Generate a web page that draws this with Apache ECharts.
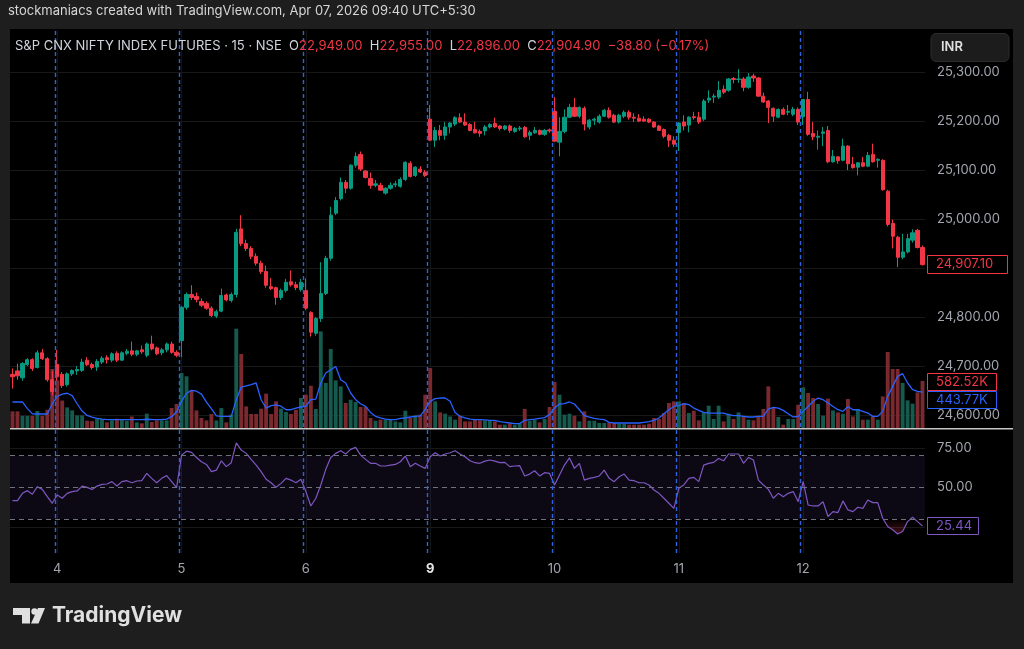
<!DOCTYPE html>
<html lang="en">
<head>
<meta charset="UTF-8">
<title>NIFTY futures 15m</title>
<script src="https://cdn.jsdelivr.net/npm/echarts@6/dist/echarts.min.js"></script>
<style>
  html, body { margin: 0; padding: 0; background: #1e1e1e; }
  #wrap { position: relative; width: 1024px; height: 649px; }
  #pane { position: absolute; left: 10px; top: 29px; width: 1003px; height: 554px; background: #000; }
  #main { position: absolute; left: 0; top: 0; width: 1024px; height: 649px; }
</style>
</head>
<body>
<div id="wrap"><div id="pane"></div><div id="main"></div></div>
<script>
// session layout
var sessionTimes = ['09:15','09:30','09:45','10:00','10:15','10:30','10:45','11:00','11:15','11:30','11:45','12:00','12:15',
    '12:30','12:45','13:00','13:15','13:30','13:45','14:00','14:15','14:30','14:45','15:00','15:15'];
var tradingDays = ['3','4','5','6','9','10','11','12'];
var firstDayFrom = '13:15';      // first day is only partly visible
var weekStartDay = '9';

// candles [open, high, low, close]
var candles = [
    // 3
    [24683,24695,24654,24678],[24690,24705,24672,24680],[24676,24708,24670,24705],[24703,24716,24700,24713],[24713,24716,24690,24695],
    [24697,24732,24695,24727],[24727,24735,24712,24715],[24715,24718,24668,24672],[24672,24690,24640,24648],
    // 4
    [24703,24733,24670,24678],[24683,24688,24655,24660],[24662,24687,24658,24684],[24684,24693,24680,24691],[24690,24700,24682,24693],
    [24691,24715,24688,24708],[24712,24718,24700,24703],[24703,24707,24693,24697],[24698,24714,24690,24709],[24708,24720,24704,24716],
    [24717,24722,24705,24713],[24712,24728,24708,24725],[24726,24730,24708,24712],[24712,24730,24710,24727],[24726,24735,24722,24730],
    [24731,24750,24720,24724],[24724,24733,24720,24731],[24733,24742,24725,24729],[24722,24748,24718,24745],[24745,24762,24732,24735],
    [24737,24740,24722,24725],[24727,24737,24722,24733],[24733,24748,24728,24745],[24745,24750,24725,24728],[24728,24732,24718,24722],
    // 5
    [24752,24822,24718,24820],[24820,24850,24815,24846],[24846,24865,24835,24840],[24842,24850,24830,24836],[24832,24838,24820,24824],
    [24828,24832,24815,24818],[24818,24822,24800,24803],[24802,24815,24798,24811],[24812,24858,24810,24844],[24845,24848,24832,24835],
    [24834,24850,24830,24846],[24846,24980,24840,24973],[24980,25008,24945,24950],[24950,24958,24935,24940],[24940,24945,24918,24924],
    [24924,24930,24905,24910],[24910,24915,24888,24893],[24893,24905,24860,24865],[24862,24880,24855,24858],[24860,24862,24825,24840],
    [24840,24858,24835,24854],[24854,24878,24850,24871],[24872,24895,24862,24866],[24866,24872,24855,24860],[24856,24878,24852,24871],
    // 6
    [24854,24879,24814,24818],[24809,24812,24760,24769],[24767,24800,24762,24797],[24797,24912,24790,24848],[24848,24925,24845,24920],
    [24920,25025,24915,25008],[25012,25045,25008,25038],[25042,25085,25038,25075],[25075,25080,25053,25063],[25063,25112,25060,25110],
    [25110,25136,25105,25128],[25132,25138,25098,25102],[25098,25100,25083,25085],[25083,25095,25062,25069],[25069,25080,25065,25072],
    [25069,25074,25058,25059],[25053,25065,25050,25063],[25063,25075,25060,25069],[25070,25078,25065,25072],[25067,25085,25064,25081],
    [25081,25118,25078,25116],[25114,25118,25085,25087],[25089,25108,25086,25106],[25102,25108,25094,25096],[25096,25100,25086,25089],
    // 9
    [25204,25233,25159,25161],[25161,25188,25147,25181],[25181,25192,25161,25171],[25171,25198,25162,25188],[25188,25198,25175,25196],
    [25194,25210,25190,25207],[25207,25216,25196,25198],[25198,25216,25190,25192],[25193,25196,25179,25181],[25183,25198,25175,25176],
    [25179,25183,25168,25175],[25180,25192,25171,25188],[25188,25196,25185,25193],[25195,25207,25186,25188],[25190,25192,25181,25185],
    [25184,25192,25181,25190],[25190,25193,25176,25181],[25179,25188,25176,25185],[25184,25190,25180,25186],[25187,25190,25166,25168],
    [25171,25181,25161,25177],[25176,25188,25174,25181],[25181,25183,25171,25173],[25173,25184,25170,25181],[25182,25185,25176,25180],
    // 10
    [25220,25249,25159,25159],[25157,25208,25128,25179],[25179,25224,25175,25208],[25208,25235,25206,25228],[25228,25247,25208,25210],
    [25210,25230,25206,25228],[25226,25230,25181,25194],[25188,25204,25183,25202],[25202,25207,25192,25204],[25198,25214,25195,25210],
    [25210,25225,25208,25222],[25222,25228,25205,25208],[25212,25215,25196,25198],[25198,25215,25195,25212],[25210,25222,25206,25218],
    [25218,25222,25203,25208],[25208,25216,25198,25206],[25206,25214,25198,25200],[25204,25210,25198,25200],[25204,25206,25196,25198],
    [25198,25200,25186,25188],[25190,25192,25181,25181],[25183,25185,25165,25169],[25171,25174,25147,25161],[25161,25169,25147,25153],
    // 11
    [25177,25198,25139,25196],[25198,25212,25181,25190],[25192,25210,25177,25208],[25209,25219,25203,25207],[25208,25219,25194,25198],
    [25204,25245,25200,25241],[25243,25263,25237,25247],[25249,25256,25237,25251],[25249,25282,25245,25263],[25265,25273,25255,25259],
    [25263,25288,25260,25286],[25287,25290,25277,25285],[25285,25306,25278,25286],[25286,25290,25261,25269],[25269,25298,25266,25290],
    [25292,25297,25280,25288],[25288,25290,25250,25251],[25251,25258,25237,25239],[25241,25243,25196,25228],[25226,25228,25198,25210],
    [25208,25226,25206,25224],[25224,25228,25212,25214],[25218,25233,25212,25220],[25214,25229,25210,25224],[25224,25228,25192,25198],
    // 12
    [25209,25244,25192,25244],[25244,25260,25170,25173],[25175,25198,25161,25168],[25167,25181,25142,25169],[25175,25188,25149,25178],
    [25181,25190,25114,25117],[25117,25141,25115,25128],[25127,25128,25113,25119],[25120,25164,25118,25149],[25149,25151,25100,25113],
    [25112,25127,25103,25105],[25106,25115,25089,25115],[25115,25127,25106,25108],[25108,25137,25106,25130],[25132,25154,25115,25117],
    [25120,25124,25105,25122],[25120,25122,25058,25060],[25057,25060,24985,24989],[24991,24999,24940,24965],[24963,24966,24902,24922],
    [24922,24970,24918,24933],[24933,24970,24930,24960],[24957,24979,24952,24972],[24977,24980,24940,24942],[24942,24946,24905,24907.10]
];

// volume, thousands
var volume = [
    206,206,150,150,150,210,150,225,730,
    590,340,255,218,156,156,90,85,111,111,70,95,115,100,90,143,70,58,177,74,95,95,95,247,297,
    680,640,465,218,124,94,173,94,247,70,165,1229,916,267,173,173,239,425,173,330,239,198,173,226,371,
    412,523,235,1195,557,978,589,515,309,350,322,260,260,124,90,103,103,103,82,70,214,124,156,165,412,
    742,330,193,177,143,103,152,82,82,103,95,95,95,82,41,41,54,41,54,235,90,103,70,111,260,
    569,412,165,177,152,82,206,90,90,62,62,70,62,54,54,41,41,41,41,54,124,111,185,309,330,
    330,309,185,214,95,193,276,111,276,82,177,111,193,136,103,95,152,235,515,247,136,41,111,111,288,
    502,433,371,297,152,363,218,193,177,359,143,235,103,103,143,103,391,940,730,730,557,342,301,441,582.52
];

// volume moving average, thousands
var volumeMa = [
    322,322,322,240,175,173,173,173,300,
    390,420,430,400,300,210,155,135,120,111,103,103,103,103,103,103,103,103,108,105,103,103,110,140,200,
    330,430,465,455,420,320,240,150,144,144,144,350,507,520,536,557,350,247,276,285,270,226,226,247,260,
    267,350,358,557,680,721,762,598,557,433,350,300,267,193,144,124,111,103,103,118,124,136,144,150,230,
    330,363,371,371,330,193,144,124,111,103,103,100,95,95,78,70,62,54,54,95,103,111,120,128,165,
    247,297,301,322,297,226,152,136,120,111,103,70,62,62,62,62,62,62,70,78,95,124,177,226,267,
    276,300,290,247,218,193,185,185,185,185,165,152,152,144,136,136,144,144,235,255,247,218,177,136,144,
    206,267,330,371,350,309,267,226,206,267,226,226,206,185,144,144,206,391,515,639,672,557,474,453,443.77
];

// RSI 14
var rsi = [
    41.6,41.6,46.2,47.9,45.6,50.4,48.7,44.1,39.9,
    45.2,43.1,46.2,47.3,47.7,50.8,50.0,48.7,50.8,51.9,52.1,53.6,50.8,53.6,54.2,52.9,54.0,54.2,58.8,55.7,52.9,55.7,57.4,53.6,49.8,
    70.4,72.9,72.1,68.9,66.2,64.5,59.9,60.9,66.8,63.1,65.6,78.2,73.6,71.5,67.7,64.1,59.9,55.1,52.9,50.0,52.5,55.7,54.6,52.9,55.1,
    47.3,38.2,43.1,51.5,61.4,68.9,71.5,73.2,71.1,74.0,75.3,70.4,67.7,65.2,65.2,63.5,63.5,64.1,64.5,66.2,69.8,63.1,65.2,63.5,62.0,
    69.4,71.9,69.8,71.1,71.9,73.2,71.1,69.4,66.8,65.6,65.2,66.6,67.3,66.6,65.6,65.8,63.1,63.5,63.7,57.2,58.4,60.5,57.2,59.3,58.8,
    51.5,57.8,64.1,68.7,62.0,65.2,54.6,55.7,56.3,57.2,60.9,55.7,53.6,56.7,58.4,54.6,54.2,52.9,52.9,51.5,48.3,46.2,43.1,39.9,36.7,
    49.4,51.5,55.7,56.3,53.6,64.1,65.2,65.8,68.3,66.8,71.1,71.1,71.1,65.2,68.9,67.3,54.6,51.5,48.7,43.1,46.2,44.1,46.2,47.3,40.9,
    53.6,38.8,38.2,38.2,40.9,31.5,34.6,34.0,41.4,35.7,34.6,37.4,36.7,42.0,40.3,40.3,30.4,25.2,23.1,20.5,22.0,28.3,31.1,28.3,25.44
];
var rsiBands = [70, 50, 30];

// header texts
var headerText = 'stockmaniacs created with TradingView.com, Apr 07, 2026 09:40 UTC+5:30';
var symbolText = 'S&P CNX NIFTY INDEX FUTURES · 15 · NSE';
var ohlcText = [['O', '22,949.00'], ['H', '22,955.00'], ['L', '22,896.00'], ['C', '22,904.90']];
var changeText = '−38.80 (−0.17%)';

var UP = '#089981', DOWN = '#f23645';
var FONT = 'Inter, Roboto, sans-serif';

var categories = [];
tradingDays.forEach(function (d, k) {
    var times = k === 0 ? sessionTimes.slice(sessionTimes.indexOf(firstDayFrom)) : sessionTimes;
    times.forEach(function (t) { categories.push(d + ' ' + t); });
});
function isDayStart(i) { return !!categories[i] && categories[i].slice(-5) === sessionTimes[0]; }
var dayStarts = [];
categories.forEach(function (c, i) { if (isDayStart(i)) dayStarts.push(i); });

var ohlcData = candles.map(function (c) { return [c[0], c[3], c[2], c[1]]; });
var volData = volume.map(function (v, i) {
    var up = candles[i][3] >= candles[i][0];
    return { value: v, itemStyle: { color: up ? '#16594d' : '#7a2a2f' } };
});

function money(v) {
    return v.toLocaleString('en-US', { minimumFractionDigits: 2, maximumFractionDigits: 2 });
}

var myChart = echarts.init(document.getElementById('main'));

var titleRich = '{n|' + symbolText + '}  ';
ohlcText.forEach(function (p) { titleRich += '{k|' + p[0] + '}{v|' + p[1] + '}  '; });
titleRich += '{v|' + changeText + '}';

var last = candles.length - 1;

var option = {
    backgroundColor: 'transparent',
    animation: false,
    textStyle: { fontFamily: FONT },
    grid: [
        { left: 10, right: 99, top: 30, height: 434 },     // price
        { left: 10, right: 99, top: 300, height: 128 },    // volume
        { left: 10, right: 99, top: 430, height: 136.3 },  // rsi
        { left: 10, right: 99, top: 30, height: 523 },     // time axis
        { left: 10, right: 99, top: 30, height: 523 }      // session breaks
    ],
    xAxis: [0, 1, 2].map(function (g) {
        return { type: 'category', gridIndex: g, data: categories, boundaryGap: true, show: false };
    }).concat([{
        type: 'category', gridIndex: 3, data: categories, boundaryGap: true,
        axisLine: { show: false },
        axisTick: {
            show: true, inside: true, length: 523, alignWithLabel: true,
            interval: function (i) { return isDayStart(i); },
            lineStyle: { color: '#141414' }
        },
        axisLabel: {
            interval: function (i) { return isDayStart(i); },
            margin: 10, color: '#a3a6af', fontSize: 13, fontFamily: FONT,
            formatter: function (v) {
                var d = v.split(' ')[0];
                return d === weekStartDay ? '{w|' + d + '}' : d;
            },
            rich: { w: { color: '#e6e6e6', fontWeight: 'bold', fontSize: 13, fontFamily: FONT } }
        },
        splitLine: { show: false }
    }, {
        type: 'value', gridIndex: 4, min: -0.5, max: categories.length - 0.5, show: false
    }]),
    yAxis: [
        {
            type: 'value', gridIndex: 0, position: 'right', min: 24500, max: 25386, interval: 100,
            axisLine: { show: false }, axisTick: { show: false },
            axisLabel: {
                margin: 12, color: '#a3a6af', fontSize: 13, fontFamily: FONT,
                formatter: function (v) { return (v % 100 === 0 && v > 24500) ? money(v) : ''; }
            },
            splitLine: { lineStyle: { color: ['rgba(0,0,0,0)', '#181818', '#181818', '#181818', '#181818',
                '#181818', '#181818', '#181818', '#181818', 'rgba(0,0,0,0)'] } }
        },
        { type: 'value', gridIndex: 1, min: 0, max: 1584, show: false },
        {
            type: 'value', gridIndex: 2, position: 'right', min: 0, max: 86.3, interval: 25,
            axisLine: { show: false }, axisTick: { show: false },
            axisLabel: {
                margin: 12, color: '#a3a6af', fontSize: 13, fontFamily: FONT,
                formatter: function (v) { return (v === 50 || v === 75) ? v.toFixed(2) : ''; }
            },
            splitLine: { lineStyle: { color: ['rgba(0,0,0,0)', '#181818', 'rgba(0,0,0,0)', '#181818', 'rgba(0,0,0,0)'] } }
        },
        { type: 'value', gridIndex: 3, show: false },
        { type: 'value', gridIndex: 4, min: 0, max: 1, show: false }
    ],
    series: [
        {
            name: 'Volume', type: 'bar', xAxisIndex: 1, yAxisIndex: 1,
            data: volData, barWidth: '78%', z: 1
        },
        {
            name: 'Volume MA', type: 'line', xAxisIndex: 1, yAxisIndex: 1,
            data: volumeMa, symbol: 'none', lineStyle: { color: '#2962ff', width: 1.3 }, z: 2
        },
        {
            name: 'NIFTY', type: 'candlestick', xAxisIndex: 0, yAxisIndex: 0,
            data: ohlcData, barWidth: '74%', z: 3,
            itemStyle: { color: UP, color0: DOWN, borderColor: UP, borderColor0: DOWN, borderWidth: 1 }
        },
        {
            name: 'RSI', type: 'line', xAxisIndex: 2, yAxisIndex: 2,
            data: rsi, symbol: 'none', lineStyle: { color: '#7e57c2', width: 1.2 }, z: 4,
            markArea: {
                silent: true,
                itemStyle: { color: 'rgba(126,87,194,0.10)' },
                data: [[{ yAxis: rsiBands[0] }, { yAxis: rsiBands[2] }]]
            },
            markLine: {
                silent: true, symbol: 'none', label: { show: false },
                lineStyle: { color: '#6f727c', type: [5, 4], width: 1 },
                data: rsiBands.map(function (b) { return { yAxis: b }; })
            }
        },
        {
            name: 'RSI oversold', type: 'line', xAxisIndex: 2, yAxisIndex: 2,
            data: rsi, symbol: 'none', lineStyle: { width: 0, opacity: 0 }, silent: true, z: 3,
            areaStyle: {
                origin: rsiBands[2],
                color: new echarts.graphic.LinearGradient(0, 519, 0, 540, [
                    { offset: 0, color: 'rgba(242,54,69,0)' },
                    { offset: 1, color: 'rgba(242,54,69,0.55)' }
                ], true)
            }
        },
        {
            name: 'Session breaks', type: 'line', xAxisIndex: 4, yAxisIndex: 4,
            data: [], silent: true, z: 5,
            markLine: {
                silent: true, symbol: 'none', label: { show: false },
                lineStyle: { color: '#2f62dc', type: [4, 3], width: 1.4 },
                data: dayStarts.map(function (i) { return { xAxis: i - 0.5 }; })
            }
        }
    ],
    graphic: [
        { type: 'text', x: 8, y: 11, z: 100, style: { text: headerText, fill: '#d6d6d6', font: '13px ' + FONT, verticalAlign: 'middle' } },
        {
            type: 'text', x: 15, y: 46, z: 100,
            style: {
                text: titleRich, font: '13px ' + FONT, verticalAlign: 'middle',
                rich: {
                    n: { fill: '#d1d4dc', font: '13px ' + FONT },
                    k: { fill: '#d1d4dc', font: '13px ' + FONT },
                    v: { fill: DOWN, font: '13px ' + FONT }
                }
            }
        },
        { type: 'rect', z: 100, shape: { x: 931, y: 33.5, width: 78, height: 28, r: 5 }, style: { fill: '#1c1c1c', stroke: '#2c2c2c', lineWidth: 1 } },
        { type: 'text', x: 941, y: 47.5, z: 101, style: { text: 'INR', fill: '#e0e0e0', font: '600 13px ' + FONT, verticalAlign: 'middle' } },
        // pane separator
        { type: 'rect', z: 50, shape: { x: 10, y: 428, width: 1003, height: 1.5 }, style: { fill: '#c6c6c6' } },
        // last value tags
        { type: 'rect', z: 100, shape: { x: 927.5, y: 255.5, width: 80, height: 18 }, style: { fill: '#000', stroke: DOWN, lineWidth: 1 } },
        { type: 'text', x: 936, y: 264.5, z: 101, style: { text: money(candles[last][3]), fill: DOWN, font: '13px ' + FONT, verticalAlign: 'middle' } },
        { type: 'rect', z: 100, shape: { x: 927.5, y: 373.5, width: 69, height: 17 }, style: { fill: '#000', stroke: DOWN, lineWidth: 1 } },
        { type: 'text', x: 936, y: 382, z: 101, style: { text: volume[last].toFixed(2) + 'K', fill: DOWN, font: '13px ' + FONT, verticalAlign: 'middle' } },
        { type: 'rect', z: 100, shape: { x: 927.5, y: 391.5, width: 69, height: 17 }, style: { fill: '#000', stroke: '#2962ff', lineWidth: 1 } },
        { type: 'text', x: 936, y: 400, z: 101, style: { text: volumeMa[last].toFixed(2) + 'K', fill: '#2962ff', font: '13px ' + FONT, verticalAlign: 'middle' } },
        { type: 'rect', z: 100, shape: { x: 927.5, y: 517.5, width: 51, height: 17 }, style: { fill: '#000', stroke: '#7e57c2', lineWidth: 1 } },
        { type: 'text', x: 936, y: 526, z: 101, style: { text: rsi[last].toFixed(2), fill: '#7e57c2', font: '13px ' + FONT, verticalAlign: 'middle' } },
        // TradingView logo
        { type: 'polygon', z: 100, shape: { points: [[13, 608], [30, 608], [30, 623.5], [22, 623.5], [22, 615], [13, 615]] }, style: { fill: '#e0e0e0' } },
        { type: 'circle', z: 100, shape: { cx: 34.5, cy: 611.5, r: 3.2 }, style: { fill: '#e0e0e0' } },
        { type: 'polygon', z: 100, shape: { points: [[38, 608], [45, 608], [38.5, 623.5], [31, 623.5]] }, style: { fill: '#e0e0e0' } },
        { type: 'text', x: 52, y: 616, z: 100, style: { text: 'TradingView', fill: '#e0e0e0', font: 'bold 21px ' + FONT, verticalAlign: 'middle' } }
    ]
};

myChart.setOption(option);
</script>
</body>
</html>
